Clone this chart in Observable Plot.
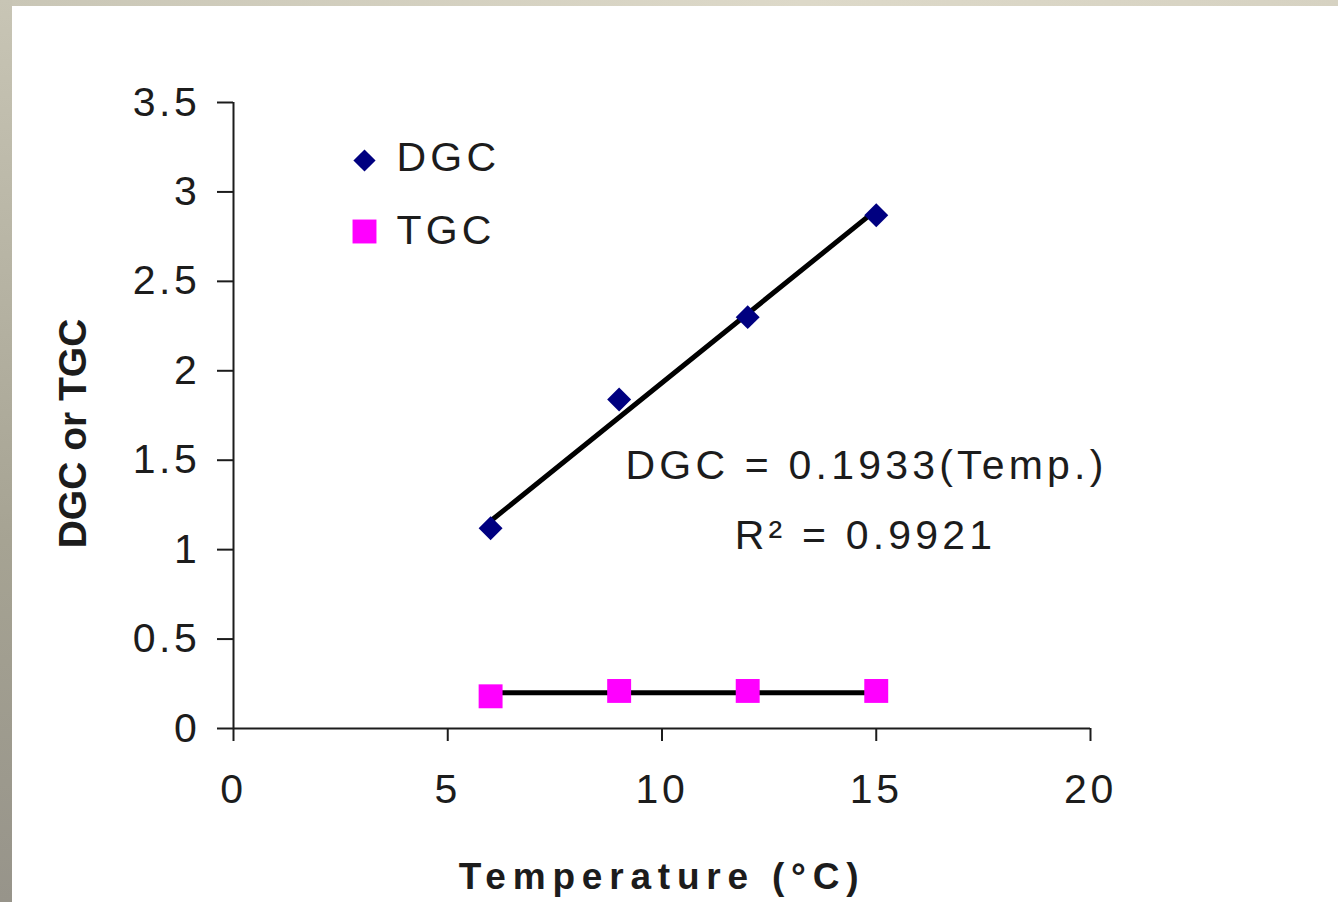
<!DOCTYPE html>
<html>
<head>
<meta charset="utf-8">
<script src="https://cdn.jsdelivr.net/npm/d3@7"></script>
<script src="https://cdn.jsdelivr.net/npm/@observablehq/plot@0.6"></script>
<style>
  html, body { margin: 0; padding: 0; background: #ffffff; width: 1338px; height: 902px; overflow: hidden; }
  #wrap { position: relative; width: 1338px; height: 902px; }
  #topbar { position: absolute; left: 0; top: 0; width: 1338px; height: 6px; background: linear-gradient(to right, #c9c6b6, #ddd9c9 60%, #d6d2c2); z-index: 2; }
  #leftbar { position: absolute; left: 0; top: 0; width: 12px; height: 902px; background: linear-gradient(to bottom, #c8c5b5, #a6a393 60%, #97948a); z-index: 2; }
  #chart { position: absolute; left: 0; top: 0; }
</style>
</head>
<body>
<div id="wrap">
  <div id="topbar"></div>
  <div id="leftbar"></div>
  <div id="chart"></div>
</div>
<script>
// Data
const temps = [6, 9, 12, 15];
const dgcValues = [1.12, 1.84, 2.30, 2.87];
const tgcValues = [0.18, 0.21, 0.21, 0.21];
const seriesNames = ["DGC", "TGC"];
const seriesColors = ["#000080", "#ff00ff"];
const xTicks = [0, 5, 10, 15, 20];
const xTickLabels = ["0", "5", "10", "15", "20"];
const yTicks = [0, 0.5, 1, 1.5, 2, 2.5, 3, 3.5];
const yTickLabels = ["0", "0.5", "1", "1.5", "2", "2.5", "3", "3.5"];
const dgcSlope = 0.1933;
const tgcLevel = 0.2;
const equationText = "DGC = 0.1933(Temp.)";
const r2Text = "R\u00B2 = 0.9921";
const xTitle = "Temperature (\u00B0C)";
const yTitle = "DGC or TGC";

const dgcPts = temps.map((t, i) => ({t, v: dgcValues[i]}));
const tgcPts = temps.map((t, i) => ({t, v: tgcValues[i]}));
const tRange = [d3.min(temps), d3.max(temps)];
const dgcTrend = tRange.map(t => ({t, v: dgcSlope * t}));
const tgcTrend = tRange.map(t => ({t, v: tgcLevel}));

const ink = "#1c1c1c";

const chart = Plot.plot({
  width: 1338,
  height: 902,
  marginLeft: 233,
  marginRight: 248,
  marginTop: 102,
  marginBottom: 174,
  style: {background: "transparent", fontFamily: "'Liberation Sans', Arial, sans-serif", color: ink, overflow: "visible"},
  x: {domain: [0, 20]},
  y: {domain: [0, 3.5]},
  marks: [
    Plot.ruleY([0], {stroke: ink, strokeWidth: 2}),
    Plot.ruleX([0], {stroke: ink, strokeWidth: 2}),
    Plot.axisX({ticks: xTicks, tickFormat: (d) => xTickLabels[xTicks.indexOf(d)], tickSize: 13, tickPadding: 32, fontSize: 41, label: null, stroke: ink, strokeWidth: 2}),
    Plot.axisY({ticks: yTicks, tickFormat: (d) => yTickLabels[yTicks.indexOf(d)], tickSize: 16, tickPadding: 17, fontSize: 41, label: null, stroke: ink, strokeWidth: 2}),
    // trend lines
    Plot.line(dgcTrend, {x: "t", y: "v", stroke: "#000", strokeWidth: 5}),
    Plot.line(tgcTrend, {x: "t", y: "v", stroke: "#000", strokeWidth: 5}),
    // points
    Plot.dot(dgcPts, {x: "t", y: "v", symbol: "diamond2", r: 10.8, fill: seriesColors[0], stroke: "none"}),
    Plot.dot(tgcPts, {x: "t", y: "v", symbol: "square", r: 13.5, fill: seriesColors[1], stroke: "none"}),
    // legend
    Plot.dot([seriesNames[0]], {frameAnchor: "top-left", dx: 131, dy: 58, symbol: "diamond2", r: 10, fill: seriesColors[0], stroke: "none"}),
    Plot.dot([seriesNames[1]], {frameAnchor: "top-left", dx: 131, dy: 129, symbol: "square", r: 13.5, fill: seriesColors[1], stroke: "none"}),
    Plot.text([seriesNames[0]], {frameAnchor: "top-left", dx: 163, dy: 55, text: d => d, textAnchor: "start", lineAnchor: "middle", fontSize: 41, fill: ink}),
    Plot.text([seriesNames[1]], {frameAnchor: "top-left", dx: 163, dy: 128, text: d => d, textAnchor: "start", lineAnchor: "middle", fontSize: 41, fill: ink}),
    // equation
    Plot.text([equationText], {frameAnchor: "top-left", dx: 633, dy: 363, text: d => d, textAnchor: "middle", lineAnchor: "middle", fontSize: 41, fill: ink}),
    Plot.text([r2Text], {frameAnchor: "top-left", dx: 632, dy: 433, text: d => d, textAnchor: "middle", lineAnchor: "middle", fontSize: 41, fill: ink}),
    // titles
    Plot.text([xTitle], {frameAnchor: "bottom", dy: 149, text: d => d, textAnchor: "middle", lineAnchor: "middle", fontSize: 37, fontWeight: "bold", fill: ink}),
    Plot.text([yTitle], {frameAnchor: "left", dx: -160, dy: 18, rotate: -90, text: d => d, textAnchor: "middle", lineAnchor: "middle", fontSize: 39, fontWeight: "bold", fill: ink})
  ]
});
document.getElementById("chart").appendChild(chart);

// letter spacing to mimic the horizontally stretched lettering of the original
const spacing = new Map([
  [seriesNames[0], 4.2], [seriesNames[1], 4.2],
  [equationText, 4.2], [r2Text, 4.2],
  [xTitle, 6.8]
]);
xTickLabels.concat(yTickLabels).forEach(s => { if (!spacing.has(s)) spacing.set(s, 3.6); });
d3.select(chart).selectAll("text").each(function() {
  const s = spacing.get(this.textContent);
  if (s != null) this.style.letterSpacing = s + "px";
});
</script>
</body>
</html>
